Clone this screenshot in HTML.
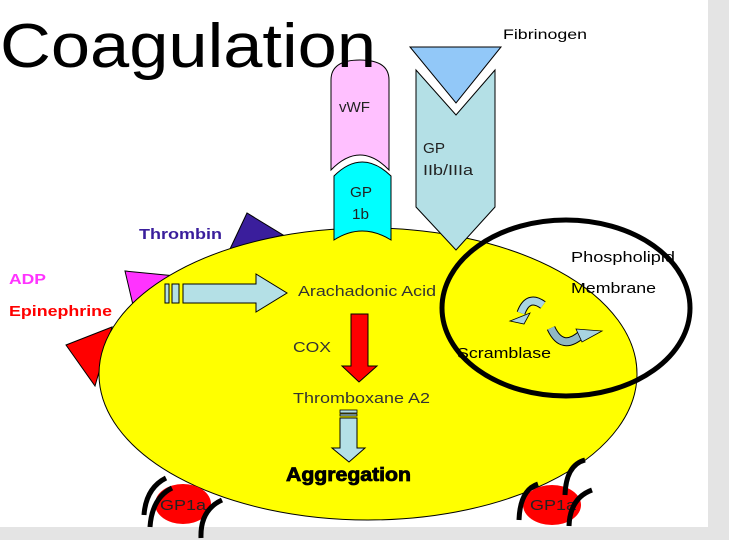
<!DOCTYPE html>
<html><head><meta charset="utf-8"><style>
html,body{margin:0;padding:0;background:#e6e6e6;}
svg{display:block;}
text{font-family:"Liberation Sans",Arial,Helvetica,sans-serif;}
</style></head><body>
<svg width="729" height="540" viewBox="0 0 729 540" xmlns="http://www.w3.org/2000/svg" font-family="Liberation Sans, Arial, sans-serif">
<rect x="0" y="0" width="729" height="540" fill="#e4e4e4"/>
<rect x="0" y="0" width="708" height="527" fill="#ffffff"/>

<polygon points="230,249 247,213 283,235" fill="#3a1e9c" stroke="#000" stroke-width="1"/>
<polygon points="125,271 133,305 176,276" fill="#ff33ff" stroke="#000" stroke-width="1"/>
<polygon points="66,345 112,327 95,386" fill="#ff0000" stroke="#000" stroke-width="1"/>

<ellipse cx="368" cy="374" rx="269" ry="146" fill="#ffff00" stroke="#000" stroke-width="1"/>

<path d="M331,170 L331,80 Q331,60 360,60 Q389,60 389,80 L389,170 Q360,140 331,170 Z" fill="#ffc0ff" stroke="#000" stroke-width="1"/>
<text x="339" y="112" font-size="15" fill="#222" textLength="31" lengthAdjust="spacingAndGlyphs">vWF</text>
<path d="M334,176 Q362,148 391,176 L391,240 Q362,222 334,240 Z" fill="#00ffff" stroke="#000" stroke-width="1"/>
<text x="350" y="197" font-size="15" fill="#222" textLength="22" lengthAdjust="spacingAndGlyphs">GP</text>
<text x="352" y="219" font-size="15" fill="#222" textLength="17" lengthAdjust="spacingAndGlyphs">1b</text>

<polygon points="410,47 501,47 456,103" fill="#92c8f8" stroke="#000" stroke-width="1"/>
<text x="503" y="39" font-size="14" fill="#000" textLength="84" lengthAdjust="spacingAndGlyphs">Fibrinogen</text>
<polygon points="416,70 456,115 495,70 495,207 456,250 416,207" fill="#b4e0e6" stroke="#000" stroke-width="1"/>
<text x="423" y="153" font-size="15" fill="#222" textLength="22" lengthAdjust="spacingAndGlyphs">GP</text>
<text x="423" y="175" font-size="15" fill="#222" textLength="50" lengthAdjust="spacingAndGlyphs">IIb/IIIa</text>

<text x="0" y="67" font-size="62" fill="#000" textLength="376" lengthAdjust="spacingAndGlyphs">Coagulation</text>

<text x="139" y="239" font-size="15" font-weight="bold" fill="#3a1e9c" textLength="83" lengthAdjust="spacingAndGlyphs">Thrombin</text>
<text x="9" y="284" font-size="15" font-weight="bold" fill="#ff33ff" textLength="37" lengthAdjust="spacingAndGlyphs">ADP</text>
<text x="9" y="316" font-size="15" font-weight="bold" fill="#ff0000" textLength="103" lengthAdjust="spacingAndGlyphs">Epinephrine</text>

<rect x="165" y="284" width="4" height="19" fill="#b4e0e6" stroke="#000" stroke-width="1"/>
<rect x="172" y="284" width="7" height="19" fill="#b4e0e6" stroke="#000" stroke-width="1"/>
<polygon points="183,284 256,284 256,274 287,293 256,312 256,303 183,303" fill="#b4e0e6" stroke="#000" stroke-width="1"/>

<text x="298" y="296" font-size="15" fill="#333" textLength="138" lengthAdjust="spacingAndGlyphs">Arachadonic Acid</text>
<polygon points="351,314 368,314 368,366 377,366 359,382 342,366 351,366" fill="#ff0000" stroke="#000" stroke-width="1"/>
<text x="293" y="352" font-size="15" fill="#333" textLength="38" lengthAdjust="spacingAndGlyphs">COX</text>
<text x="293" y="403" font-size="15" fill="#333" textLength="137" lengthAdjust="spacingAndGlyphs">Thromboxane A2</text>

<rect x="340" y="410" width="17" height="3" fill="#b4e0e6" stroke="#000" stroke-width="0.8"/>
<rect x="340" y="414" width="17" height="2" fill="#b4e0e6" stroke="#000" stroke-width="0.8"/>
<polygon points="340,418 357,418 357,448 365,448 349,462 332,448 340,448" fill="#b4e0e6" stroke="#000" stroke-width="1"/>
<text x="286" y="481" font-size="19" font-weight="bold" fill="#000" textLength="125" lengthAdjust="spacingAndGlyphs" stroke="#000" stroke-width="0.8">Aggregation</text>

<!-- scramblase arrows -->
<path d="M543,305 Q528,294 521,313" fill="none" stroke="#000" stroke-width="9"/>
<path d="M543,305 Q528,294 521,313" fill="none" stroke="#a8d4e0" stroke-width="7"/>
<polygon points="510,321 530,313 524,324" fill="#a8d4e0" stroke="#000" stroke-width="0.8"/>
<path d="M551,328 Q562,352 582,334" fill="none" stroke="#000" stroke-width="9"/>
<path d="M551,328 Q562,352 582,334" fill="none" stroke="#90b8c2" stroke-width="7"/>
<polygon points="576,329 602,331 582,342" fill="#a8d4e0" stroke="#000" stroke-width="0.8"/>
<text x="571" y="262" font-size="15" fill="#000" textLength="104" lengthAdjust="spacingAndGlyphs">Phospholipid</text>
<text x="571" y="293" font-size="15" fill="#000" textLength="85" lengthAdjust="spacingAndGlyphs">Membrane</text>
<text x="457" y="358" font-size="15" fill="#000" textLength="94" lengthAdjust="spacingAndGlyphs">Scramblase</text>

<ellipse cx="566" cy="308" rx="124" ry="88" fill="none" stroke="#000" stroke-width="5"/>

<ellipse cx="183" cy="504" rx="28" ry="20" fill="#ff0000"/>
<text x="160" y="510" font-size="15" fill="#222" textLength="46" lengthAdjust="spacingAndGlyphs">GP1a</text>
<path d="M144,515 Q146,488 166,478" fill="none" stroke="#000" stroke-width="5"/>
<path d="M150,527 Q152,498 172,488" fill="none" stroke="#000" stroke-width="5"/>
<path d="M201,538 Q200,510 222,500" fill="none" stroke="#000" stroke-width="5"/>
<ellipse cx="552" cy="505" rx="29" ry="20" fill="#ff0000"/>
<text x="530" y="510" font-size="15" fill="#222" textLength="46" lengthAdjust="spacingAndGlyphs">GP1a</text>
<path d="M519,520 Q520,490 538,484" fill="none" stroke="#000" stroke-width="5"/>
<path d="M565,495 Q566,465 585,460" fill="none" stroke="#000" stroke-width="5"/>
<path d="M569,526 Q570,498 592,490" fill="none" stroke="#000" stroke-width="5"/>
</svg>
</body></html>
